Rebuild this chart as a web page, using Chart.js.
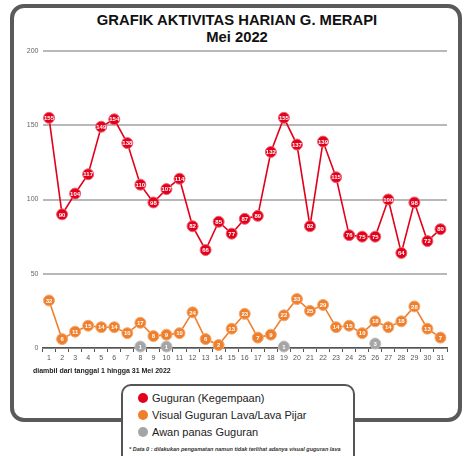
<!DOCTYPE html>
<html>
<head>
<meta charset="utf-8">
<script src="https://cdn.jsdelivr.net/npm/chart.js@4"></script>
<style>
  body { margin: 0; background: #fff; font-family: "Liberation Sans", Arial, sans-serif; }
  #wrap { position: relative; width: 469px; height: 456px; overflow: hidden; }
  #frame { position: absolute; left: 10px; top: 4px; width: 444px; height: 410px; border: 4px solid #5a5a5a; border-radius: 14px; }
  #title { position: absolute; left: 0; top: 12px; width: 474px; text-align: center; font-weight: bold; font-size: 14.8px; line-height: 17px; color: #111; }
  #chartbox { position: absolute; left: 0; top: 0; width: 469px; height: 456px; }
  #note { position: absolute; left: 33px; top: 367px; font-size: 7px; font-weight: bold; color: #222; }
  #legend { position: absolute; left: 121px; top: 384px; width: 230px; height: 80px; border: 2px solid #555; border-radius: 10px; background: #fff; }
  .item { position: absolute; left: 15px; font-size: 11px; color: #222; }
  .dot { display: inline-block; width: 10px; height: 10px; border-radius: 50%; vertical-align: -1px; margin-right: 4px; }
  #foot { position: absolute; left: 6px; top: 60px; font-size: 5.5px; font-style: italic; font-weight: bold; color: #333; white-space: nowrap; }
</style>
</head>
<body>
<div id="wrap">
  <div id="frame"></div>
  <div id="title">GRAFIK AKTIVITAS HARIAN G. MERAPI<br>Mei 2022</div>
  <div id="chartbox"><canvas id="chart"></canvas></div>
  <div id="note">diambil dari tanggal 1 hingga 31 Mei 2022</div>
  <div id="legend">
    <div class="item" style="top:6px"><span class="dot" style="background:#e3001b"></span>Guguran (Kegempaan)</div>
    <div class="item" style="top:23px"><span class="dot" style="background:#ee7f2d"></span>Visual Guguran Lava/Lava Pijar</div>
    <div class="item" style="top:40px"><span class="dot" style="background:#a5a5a5"></span>Awan panas Guguran</div>
    <div id="foot">* Data 0 : dilakukan pengamatan namun tidak terlihat adanya visual guguran lava</div>
  </div>
</div>
<script>
var days = ["1","2","3","4","5","6","7","8","9","10","11","12","13","14","15","16","17","18","19","20","21","22","23","24","25","26","27","28","29","30","31"]
var guguran = [155,90,104,117,149,154,138,110,98,107,114,82,66,85,77,87,89,132,155,137,82,139,115,76,75,75,100,64,98,72,80]
var visual = [32,6,11,15,14,14,10,17,8,9,10,24,6,2,13,23,7,9,22,33,25,29,14,15,10,18,14,18,28,13,7]
var awanPanas = [null,null,null,null,null,null,null,1,null,1,null,null,null,null,null,null,null,null,1,null,null,null,null,null,null,3,null,null,null,null,null]
var yTicks = [0,50,100,150,200]

// white value labels inside the markers
const pointLabels = {
    id: 'pointLabels',
    afterDatasetsDraw(chart) {
        const ctx = chart.ctx
        ctx.save()
        ctx.font = "bold 6px 'Liberation Sans', Arial, sans-serif"
        ctx.fillStyle = "#fff"
        ctx.textAlign = "center"
        ctx.textBaseline = "middle"
        chart.data.datasets.forEach((ds, i) => {
            chart.getDatasetMeta(i).data.forEach((pt, j) => {
                if (ds.data[j] == null) return
                ctx.fillText(ds.data[j], pt.x, pt.y + 0.5)
            })
        })
        ctx.restore()
    }
}

const config = {
    type: 'line',
    data: {
        labels: days,
        datasets: [{
            data: guguran,
            borderColor: "#e3001b",
            backgroundColor: "#e3001b",
            pointBorderColor: "#f06070",
            pointBorderWidth: 1,
            borderWidth: 1.6,
            pointRadius: 5.5,
            clip: false,
        }, {
            data: visual,
            borderColor: "#ee7f2d",
            backgroundColor: "#ee7f2d",
            pointBorderColor: "#f5a870",
            pointBorderWidth: 1,
            borderWidth: 1.6,
            pointRadius: 5.5,
            clip: false,
        }, {
            data: awanPanas,
            showLine: false,
            borderColor: "#a5a5a5",
            backgroundColor: "#a5a5a5",
            pointBorderColor: "#c0c0c0",
            pointBorderWidth: 1,
            pointRadius: 5.5,
            clip: false,
        }]
    },
    options: {
        animation: false,
        responsive: true,
        maintainAspectRatio: false,
        layout: { padding: { left: 10.5, right: 22, top: 51, bottom: 96 } },
        scales: {
            x: {
                offset: true,
                afterFit: (s) => { s.height = 12 },
                grid: { offset: true, drawOnChartArea: false, color: "#555", tickLength: 4 },
                border: { color: "#555", width: 1.5 },
                ticks: { color: "#555", font: { size: 7, family: "'Liberation Sans', Arial" }, padding: 2, maxRotation: 0, autoSkip: false },
            },
            y: {
                min: 0,
                max: 200,
                afterFit: (s) => { s.width = 32 },
                afterBuildTicks: (s) => { s.ticks = yTicks.map(v => ({ value: v })) },
                grid: { color: "#b8b8b8", lineWidth: 2, drawTicks: false },
                border: { display: false },
                ticks: { color: "#666", font: { size: 7, family: "'Liberation Sans', Arial" }, padding: 4 },
            }
        },
        plugins: {
            legend: { display: false },
            tooltip: { enabled: false },
        },
    },
    plugins: [pointLabels],
}

const chart = new Chart(document.getElementById('chart'), config)
</script>
</body>
</html>
